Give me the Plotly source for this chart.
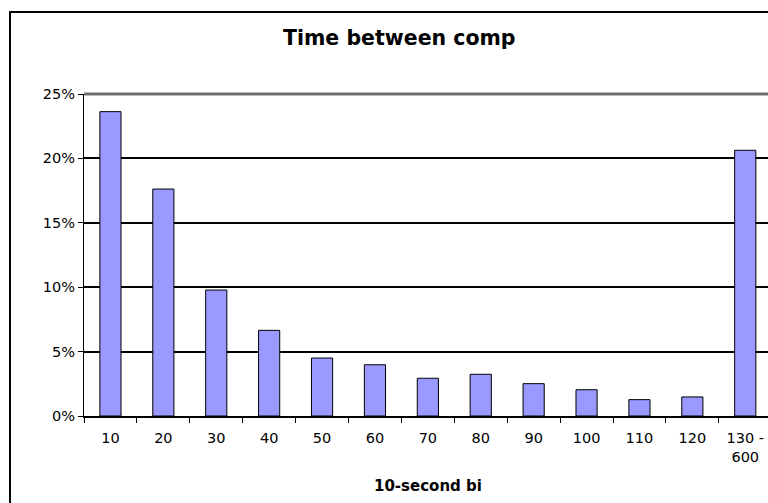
import plotly.graph_objects as go

categories = ["10", "20", "30", "40", "50", "60", "70", "80", "90", "100", "110", "120", "130 - 600"]
tick_labels = ["10", "20", "30", "40", "50", "60", "70", "80", "90", "100", "110", "120", "130 -<br>600"]
shares = [0.2363, 0.1762, 0.0978, 0.0665, 0.0450, 0.0398, 0.0293, 0.0324, 0.0251, 0.0204, 0.0127, 0.0148, 0.2063]
y_ticks = [0, 0.05, 0.10, 0.15, 0.20, 0.25]

W, H = 768, 503
ML, MT, MB = 84, 94, 87
PW = W - ML
PH = H - MT - MB

def px_x(p):
    return (p - ML) / PW

def px_y(p):
    return (H - MB - p) / PH

fig = go.Figure()
fig.add_trace(go.Bar(
    x=categories, y=shares,
    marker=dict(color="#9999FF", line=dict(color="black", width=1)),
    width=0.4,
))

font = "DejaVu Sans, Verdana, sans-serif"
fig.update_layout(
    width=W, height=H,
    margin=dict(l=ML, r=0, t=MT, b=MB, pad=0),
    paper_bgcolor="white", plot_bgcolor="white",
    showlegend=False,
    font=dict(family=font, size=14.5, color="black"),
    xaxis=dict(
        type="category", range=[-0.5, 12.43],
        tickmode="array", tickvals=categories, ticktext=tick_labels,
        tickson="boundaries", ticks="outside", ticklen=5, tickwidth=1, tickcolor="black",
        ticklabelstandoff=8,
        showline=True, linecolor="black", linewidth=2,
        showgrid=False, zeroline=False,
        tickfont=dict(family=font, size=14.5, color="black"),
    ),
    yaxis=dict(
        range=[0, 0.25], tickmode="array", tickvals=y_ticks, tickformat=".0%",
        ticks="outside", ticklen=5, tickwidth=1, tickcolor="black",
        showline=True, linecolor="black", linewidth=1,
        showgrid=True, gridcolor="black", gridwidth=1.5,
        zeroline=False,
        tickfont=dict(family=font, size=14.5, color="black"),
    ),
    shapes=[
        dict(type="rect", xref="paper", yref="paper",
             x0=px_x(10), x1=1.3, y0=-0.6, y1=px_y(12),
             line=dict(color="black", width=2), fillcolor="rgba(0,0,0,0)", layer="above"),
        dict(type="line", xref="paper", yref="paper",
             x0=0, x1=1.05, y0=1, y1=1,
             line=dict(color="#6e6e6e", width=3), layer="above"),
    ],
    annotations=[
        dict(text="<b>Time between comp</b>", xref="paper", yref="paper",
             x=px_x(399), y=px_y(38), xanchor="center", yanchor="middle",
             showarrow=False, font=dict(family=font, size=20.5, color="black")),
        dict(text="<b>10-second bi</b>", xref="paper", yref="paper",
             x=px_x(428), y=px_y(486), xanchor="center", yanchor="middle",
             showarrow=False, font=dict(family=font, size=15, color="black")),
    ],
)

fig.write_html("out.html")
